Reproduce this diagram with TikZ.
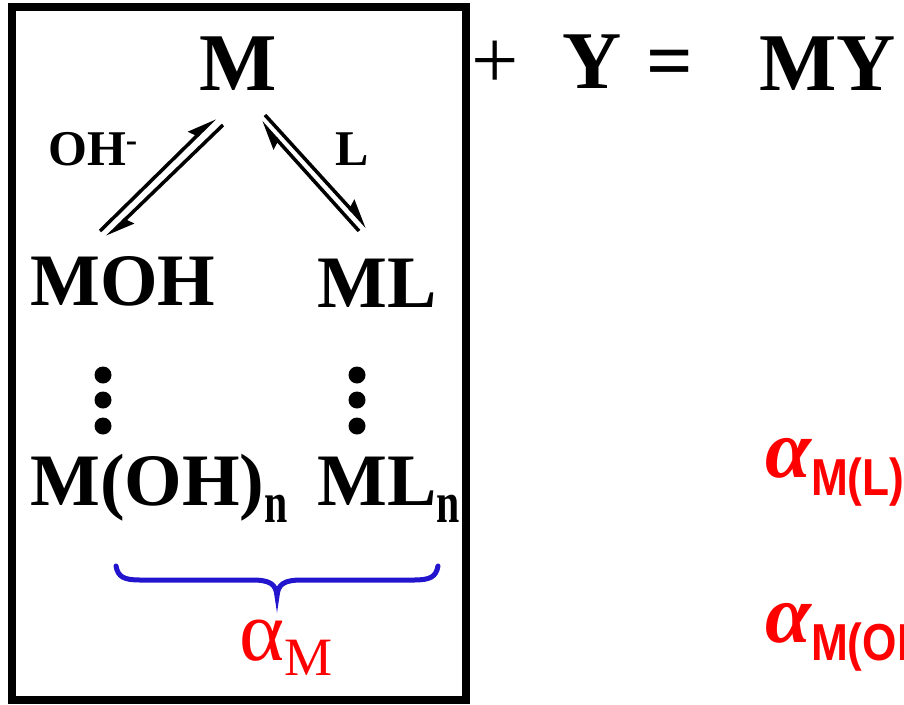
\documentclass[tikz,border=0pt]{standalone}
\usepackage{fontspec}
\setmainfont{Liberation Serif}
\setsansfont{Liberation Sans}
\usetikzlibrary{arrows.meta}
\definecolor{braceblue}{RGB}{35,20,205}
\newcommand{\fsz}[1]{\fontsize{#1}{#1}\selectfont}
\newcommand{\subn}{\raisebox{-17pt}{\fsz{58}\scalebox{0.72}[1]{n}}}
\newcommand{\subsans}[1]{\raisebox{-18pt}{\sffamily\upshape\fsz{52}\scalebox{0.85}[1]{#1}}}
\tikzset{
    species/.style={inner sep=0pt, anchor=base west, font=\bfseries\fsz{74}},
    eqline/.style={line width=3.5pt, -{Stealth[harpoon, length=24pt, width=18pt, inset=3pt]}},
    dot/.style={circle, fill=black, inner sep=0pt, minimum size=17pt}
}

\begin{document}
\begin{tikzpicture}[x=1pt, y=-1pt]
    \useasboundingbox (0,0) rectangle (904,704);
    \clip (0,0) rectangle (904,704);

    % Frame round the metal side
    \draw[line width=8pt] (12,7) rectangle (466,700);

    % Main reaction
    \node[species, font=\bfseries\fsz{82}] (M) at (199,90) {M};
    \node[species, font=\mdseries\fsz{84}] (plus) at (471,88) {+};
    \node[species, font=\bfseries\fsz{82}] (Y) at (562,88) {Y};
    \node[species, font=\bfseries\fsz{82}] (eq) at (646,88) {=};
    \node[species, font=\bfseries\fsz{82}] (MY) at (759,90) {MY};

    % Side reactions
    \node[species, font=\bfseries\fsz{50}] (OH) at (48,165) {OH\raisebox{14pt}{\fsz{34}-}};
    \node[species, font=\bfseries\fsz{50}] (L) at (335,165) {L};
    \node[species] (MOH) at (30,305) {MOH};
    \node[species] (ML) at (317,307) {ML};
    \node[species] (MOHn) at (30,505) {M(OH)\subn};
    \node[species] (MLn) at (317,505) {ML\subn};

    % Equilibrium arrows
    \coordinate (a1) at (100,231);
    \coordinate (a2) at (215,118);
    \coordinate (b1) at (223,125);
    \coordinate (b2) at (107,237);
    \coordinate (c1) at (265,115);
    \coordinate (c2) at (367,227);
    \coordinate (d1) at (359,231);
    \coordinate (d2) at (261,122);
    \draw[eqline] (a1) -- (a2);
    \draw[eqline] (b1) -- (b2);
    \draw[eqline] (c1) -- (c2);
    \draw[eqline] (d1) -- (d2);

    % Dots
    \foreach \y in {375,400,426} {
        \node[dot] (ldot\y) at (103,\y) {};
        \node[dot] (rdot\y) at (357,\y) {};
    }

    % Brace
    \draw[braceblue, line width=5pt, line cap=round]
        (116,566) .. controls (118,577) and (124,580) .. (140,580) -- (252,580)
        .. controls (270,580) and (276,584) .. (277,596)
        .. controls (278,584) and (284,580) .. (302,580) -- (414,580)
        .. controls (430,580) and (436,577) .. (438,566);

    % Side reaction coefficients
    \node[species, red, font=\mdseries\fsz{86}] (alphaM) at (239,660)
        {α\raisebox{-15pt}{\fsz{54}M}};
    \node[species, red, font=\bfseries\itshape\fsz{83}] (alphaML) at (765,477)
        {α\subsans{M(L)}};
    \node[species, red, font=\bfseries\itshape\fsz{83}] (alphaMOH) at (765,642)
        {α\subsans{M(OH)}};
\end{tikzpicture}
\end{document}
